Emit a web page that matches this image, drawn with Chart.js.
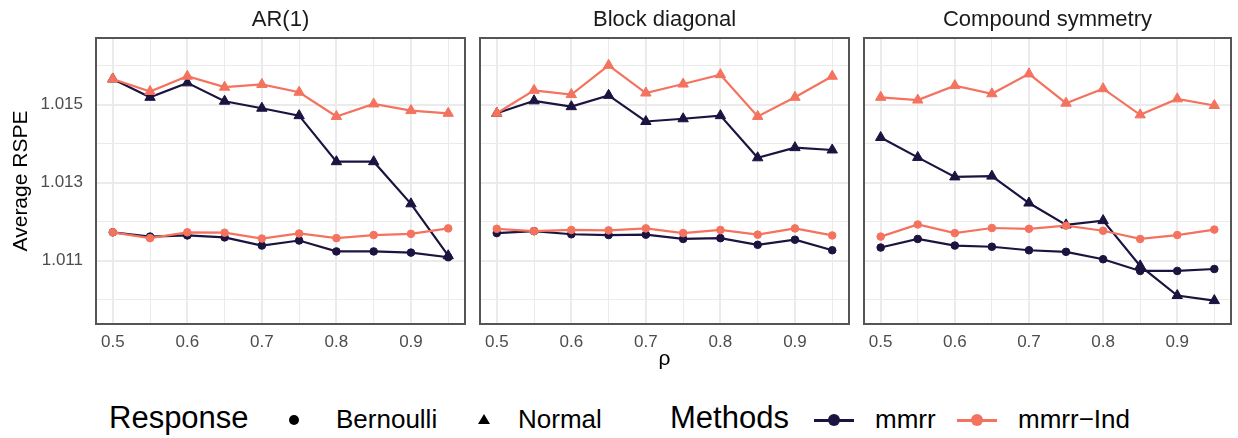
<!DOCTYPE html>
<html>
<head>
<meta charset="utf-8">
<script src="https://cdn.jsdelivr.net/npm/chart.js@4.4.0/dist/chart.umd.min.js"></script>
<style>
  body { margin: 0; background: #fff; }
  #wrap { position: relative; width: 1238px; height: 438px; overflow: hidden;
          font-family: "Liberation Sans", Arial, sans-serif; color: #000; }
  #wrap canvas { position: absolute; top: 0; }
  .lg { position: absolute; white-space: nowrap; line-height: 1; }
  .big { font-size: 31px; }
  .lab { font-size: 26px; }
  .dot { position: absolute; border-radius: 50%; }
  .tri { position: absolute; width: 0; height: 0;
         border-left: 6px solid transparent; border-right: 6px solid transparent;
         border-bottom: 10px solid #000; }
  .bar { position: absolute; height: 3px; }
</style>
</head>
<body>
<div id="wrap">
  <canvas id="c1" width="472" height="380" style="left:0"></canvas>
  <canvas id="c2" width="384" height="380" style="left:472px"></canvas>
  <canvas id="c3" width="382" height="380" style="left:856px"></canvas>

  <div class="lg big" style="left:109px;top:402px">Response</div>
  <div class="dot" style="left:289px;top:415px;width:10px;height:10px;background:#000"></div>
  <div class="lg lab" style="left:336px;top:406px">Bernoulli</div>
  <div class="tri" style="left:478px;top:414px"></div>
  <div class="lg lab" style="left:518px;top:406px">Normal</div>

  <div class="lg big" style="left:670px;top:402px">Methods</div>
  <div class="bar" style="left:814px;top:419px;width:40px;background:#1C1340"></div>
  <div class="dot" style="left:828px;top:414px;width:12px;height:12px;background:#1C1340"></div>
  <div class="lg lab" style="left:875px;top:406px">mmrr</div>
  <div class="bar" style="left:957px;top:419px;width:40px;background:#F4735F"></div>
  <div class="dot" style="left:971px;top:414px;width:12px;height:12px;background:#F4735F"></div>
  <div class="lg lab" style="left:1018px;top:406px">mmrr−Ind</div>
</div>

<script>
// correlation values on the x axis
const rho = [0.5, 0.55, 0.6, 0.65, 0.7, 0.75, 0.8, 0.85, 0.9, 0.95];
const structures = ['AR(1)', 'Block diagonal', 'Compound symmetry'];

// AR(1)
const ar1NormMmrr = [1.01566, 1.01519, 1.01556, 1.01509, 1.01491, 1.01472, 1.01354, 1.01354, 1.01246, 1.01113];
const ar1NormInd  = [1.01566, 1.01534, 1.01573, 1.01545, 1.01552, 1.01532, 1.01470, 1.01502, 1.01485, 1.01478];
const ar1BernMmrr = [1.01173, 1.01162, 1.01165, 1.01160, 1.01139, 1.01152, 1.01124, 1.01124, 1.01121, 1.01109];
const ar1BernInd  = [1.01173, 1.01158, 1.01173, 1.01172, 1.01157, 1.01170, 1.01158, 1.01166, 1.01169, 1.01183];

// block diagonal
const blkNormMmrr = [1.01478, 1.01510, 1.01495, 1.01524, 1.01457, 1.01464, 1.01472, 1.01364, 1.01390, 1.01384];
const blkNormInd  = [1.01478, 1.01537, 1.01526, 1.01601, 1.01530, 1.01553, 1.01577, 1.01470, 1.01519, 1.01573];
const blkBernMmrr = [1.01171, 1.01176, 1.01168, 1.01166, 1.01167, 1.01156, 1.01158, 1.01141, 1.01154, 1.01127];
const blkBernInd  = [1.01182, 1.01176, 1.01179, 1.01178, 1.01183, 1.01171, 1.01179, 1.01167, 1.01183, 1.01165];

// compound symmetry
const csNormMmrr = [1.01416, 1.01365, 1.01315, 1.01317, 1.01248, 1.01192, 1.01203, 1.01087, 1.01011, 1.00998];
const csNormInd  = [1.01519, 1.01512, 1.01549, 1.01528, 1.01579, 1.01504, 1.01541, 1.01474, 1.01515, 1.01498];
const csBernMmrr = [1.01134, 1.01156, 1.01139, 1.01136, 1.01127, 1.01123, 1.01104, 1.01074, 1.01074, 1.01079];
const csBernInd  = [1.01162, 1.01193, 1.01171, 1.01184, 1.01182, 1.01190, 1.01177, 1.01156, 1.01166, 1.01180];

const panelData = [
  [ar1BernMmrr, ar1BernInd, ar1NormMmrr, ar1NormInd],
  [blkBernMmrr, blkBernInd, blkNormMmrr, blkNormInd],
  [csBernMmrr, csBernInd, csNormMmrr, csNormInd]
];

const DARK = '#1C1340';
const ORANGE = '#F4735F';
const FONT = '"Liberation Sans", Arial, sans-serif';

const pts = arr => arr.map((v, i) => ({ x: rho[i], y: v }));

function makeSets(d) {
  const s = (data, col, shape) => ({
    data: pts(data),
    borderColor: col,
    backgroundColor: col,
    borderWidth: 2.2,
    pointStyle: shape,
    pointRadius: shape === 'triangle' ? 6 : 3.8,
    pointBorderWidth: 1,
    tension: 0
  });
  // orange series sit on top of the dark ones
  return [
    Object.assign(s(d[1], ORANGE, 'circle'), { order: 1 }),
    Object.assign(s(d[3], ORANGE, 'triangle'), { order: 1 }),
    Object.assign(s(d[0], DARK, 'circle'), { order: 2 }),
    Object.assign(s(d[2], DARK, 'triangle'), { order: 2 })
  ];
}

// panel frame plus the facet label centred over the plot area
const frame = {
  id: 'frame',
  afterDraw(chart, args, opts) {
    const a = chart.chartArea, c = chart.ctx;
    c.save();
    c.strokeStyle = '#555';
    c.lineWidth = 2;
    c.strokeRect(a.left, a.top, a.right - a.left, a.bottom - a.top);
    c.fillStyle = '#1A1A1A';
    c.font = '22px ' + FONT;
    c.textAlign = 'center';
    c.textBaseline = 'middle';
    c.fillText(opts.label, (a.left + a.right) / 2, 20);
    c.restore();
  }
};

function makeChart(id, idx, pad) {
  const first = idx === 0;
  const middle = idx === 1;
  return new Chart(id, {
    type: 'line',
    data: { datasets: makeSets(panelData[idx]) },
    plugins: [frame],
    options: {
      responsive: false,
      animation: false,
      layout: { padding: { left: pad[0], right: pad[1], top: 38, bottom: 0 } },
      plugins: {
        legend: { display: false },
        tooltip: { enabled: false },
        title: { display: false },
        frame: { label: structures[idx] }
      },
      scales: {
        x: {
          type: 'linear',
          min: 0.4775,
          max: 0.9725,
          border: { display: false },
          grid: {
            color: '#EBEBEB',
            drawTicks: false,
            lineWidth: c => (c.tick && Math.round(c.tick.value * 100) % 10 === 0) ? 2 : 1
          },
          ticks: {
            stepSize: 0.05,
            includeBounds: false,
            autoSkip: false,
            maxRotation: 0,
            padding: 8,
            color: '#4D4D4D',
            font: { family: FONT, size: 17 },
            callback: v => Math.round(v * 100) % 10 === 0 ? v.toFixed(1) : ''
          },
          title: {
            display: middle,
            text: 'ρ',
            color: '#000',
            font: { family: FONT, size: 21 },
            padding: { top: 8, bottom: 8 }
          },
          afterFit: s => { s.height = 56; }
        },
        y: {
          min: 1.00938,
          max: 1.01671,
          border: { display: false },
          grid: {
            color: '#EBEBEB',
            drawTicks: false,
            lineWidth: c => (c.tick && Math.round(c.tick.value * 1000) % 2 === 1) ? 2 : 1
          },
          ticks: {
            display: first,
            stepSize: 0.001,
            includeBounds: false,
            autoSkip: false,
            padding: 13,
            color: '#4D4D4D',
            font: { family: FONT, size: 17 },
            callback: v => Math.round(v * 1000) % 2 === 1 ? v.toFixed(3) : ''
          },
          title: {
            display: first,
            text: 'Average RSPE',
            color: '#000',
            font: { family: FONT, size: 21 },
            padding: { top: 9, bottom: 0 }
          },
          afterFit: s => { s.width = first ? 96 : 0; }
        }
      }
    }
  });
}

makeChart('c1', 0, [0, 4]);
makeChart('c2', 1, [8, 4]);
makeChart('c3', 2, [8, 2]);
</script>
</body>
</html>
